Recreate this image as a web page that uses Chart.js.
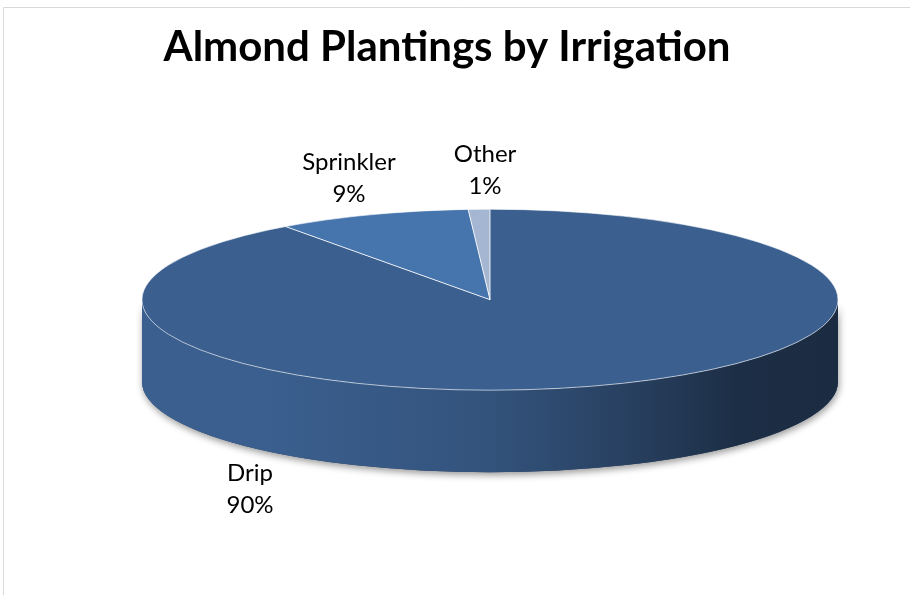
<!DOCTYPE html>
<html>
<head>
<meta charset="utf-8">
<script src="https://cdn.jsdelivr.net/npm/chart.js@4.4.1/dist/chart.umd.min.js"></script>
<style>
  html, body { margin: 0; padding: 0; background: #fff; }
  #wrap { position: relative; width: 910px; height: 595px; }
</style>
</head>
<body>
<div id="wrap"><canvas id="irrigationChart" width="910" height="595"></canvas></div>
<script>
const chartTitle = 'Almond Plantings by Irrigation';
const categories = ['Drip', 'Sprinkler', 'Other'];
const shares = [90, 9, 1];
const sliceColors = ['#3B6090', '#4674AD', '#A4B6D1'];

// look of the fake 3D pie
const tilt = 0.26;       // vertical squash of the top face
const depth = 82;        // wall thickness in px
const shiftX = 43;       // pie sits right of the title centre
const labelSpots = [[-240, 190], [-141, -121], [-5, -129]]; // label centres, relative to pie centre

function shade(hex, f) {
  const n = parseInt(hex.slice(1), 16);
  const r = Math.round(((n >> 16) & 255) * f);
  const g = Math.round(((n >> 8) & 255) * f);
  const b = Math.round((n & 255) * f);
  return `rgb(${r},${g},${b})`;
}

function frontParts(s, e) {
  // pieces of [s,e] that face the viewer (sin > 0)
  const out = [];
  for (let k = -1; k <= 1; k++) {
    const a0 = Math.max(s, 2 * Math.PI * k);
    const a1 = Math.min(e, 2 * Math.PI * k + Math.PI);
    if (a1 > a0) out.push([a0, a1]);
  }
  return out;
}

const pie3d = {
  id: 'pie3d',
  beforeDraw(chart) {
    const ctx = chart.ctx;
    ctx.save();
    ctx.fillStyle = '#fff';
    ctx.fillRect(0, 0, chart.width, chart.height);
    ctx.strokeStyle = '#d9d9d9';
    ctx.lineWidth = 1;
    ctx.beginPath();
    ctx.moveTo(3.5, chart.height);
    ctx.lineTo(3.5, 7.5);
    ctx.lineTo(chart.width, 7.5);
    ctx.stroke();
    ctx.restore();
  },
  beforeDatasetsDraw(chart) {
    const ctx = chart.ctx;
    const arcs = chart.getDatasetMeta(0).data;
    const {x, y, outerRadius: r} = arcs[0].getProps(['x', 'y', 'outerRadius']);
    const px = x + shiftX;
    const ry = r * tilt;

    // shadow under the wall
    ctx.save();
    ctx.shadowColor = 'rgba(0,0,0,0.4)';
    ctx.shadowBlur = 7;
    ctx.shadowOffsetX = 1;
    ctx.shadowOffsetY = 3;
    ctx.fillStyle = '#2a4060';
    ctx.beginPath();
    ctx.ellipse(px, y, r, ry, 0, 0, Math.PI);
    ctx.ellipse(px, y + depth, r, ry, 0, Math.PI, 0, true);
    ctx.closePath();
    ctx.fill();
    ctx.restore();

    // wall, slice by slice
    arcs.forEach((arc, i) => {
      const {startAngle, endAngle} = arc.getProps(['startAngle', 'endAngle']);
      const base = sliceColors[i];
      const grad = ctx.createLinearGradient(px - r, 0, px + r, 0);
      grad.addColorStop(0, shade(base, 1));
      grad.addColorStop(0.2, shade(base, 0.98));
      grad.addColorStop(0.5, shade(base, 0.86));
      grad.addColorStop(0.7, shade(base, 0.67));
      grad.addColorStop(0.86, shade(base, 0.48));
      grad.addColorStop(1, shade(base, 0.46));
      frontParts(startAngle, endAngle).forEach(([a0, a1]) => {
        ctx.beginPath();
        ctx.ellipse(px, y, r, ry, 0, a0, a1);
        ctx.ellipse(px, y + depth, r, ry, 0, a1, a0, true);
        ctx.closePath();
        ctx.fillStyle = grad;
        ctx.fill();
      });
    });

    // squash the top face
    ctx.save();
    ctx.translate(px, y);
    ctx.scale(1, tilt);
    ctx.translate(-x, -y);
  },
  afterDatasetsDraw(chart) {
    const ctx = chart.ctx;
    ctx.restore();

    const arcs = chart.getDatasetMeta(0).data;
    const {x, y, outerRadius: r} = arcs[0].getProps(['x', 'y', 'outerRadius']);
    const px = x + shiftX;
    const ry = r * tilt;

    // light edges
    ctx.save();
    ctx.strokeStyle = 'rgba(255,255,255,0.6)';
    ctx.lineWidth = 1;
    ctx.beginPath();
    ctx.ellipse(px, y, r, ry, 0, 0, 2 * Math.PI);
    ctx.stroke();
    ctx.strokeStyle = 'rgba(255,255,255,0.85)';
    arcs.forEach(arc => {
      const {startAngle} = arc.getProps(['startAngle']);
      ctx.beginPath();
      ctx.moveTo(px, y);
      ctx.lineTo(px + r * Math.cos(startAngle), y + ry * Math.sin(startAngle));
      ctx.stroke();
    });

    // data labels
    ctx.fillStyle = '#000';
    ctx.font = '24px Lato';
    ctx.textAlign = 'center';
    ctx.textBaseline = 'middle';
    categories.forEach((name, i) => {
      const lx = px + labelSpots[i][0];
      const ly = y + labelSpots[i][1];
      ctx.fillText(name, lx, ly - 16);
      ctx.fillText(shares[i] + '%', lx, ly + 16);
    });
    ctx.restore();
  }
};

function build() {
  new Chart(document.getElementById('irrigationChart'), {
    type: 'pie',
    data: {
      labels: categories,
      datasets: [{
        data: shares,
        backgroundColor: sliceColors,
        borderWidth: 0,
        clip: false
      }]
    },
    options: {
      responsive: false,
      animation: false,
      events: [],
      radius: 348,
      layout: { padding: { top: 0, left: 0, right: 16, bottom: 68 } },
      plugins: {
        legend: { display: false },
        tooltip: { enabled: false },
        title: {
          display: true,
          text: chartTitle,
          color: '#000',
          font: { family: 'Lato', size: 42, weight: 'bold' },
          padding: { top: 22, bottom: 0 }
        }
      }
    },
    plugins: [pie3d]
  });
}

Promise.all([
  document.fonts.load('bold 42px Lato'),
  document.fonts.load('24px Lato')
]).then(build, build);
</script>
</body>
</html>
